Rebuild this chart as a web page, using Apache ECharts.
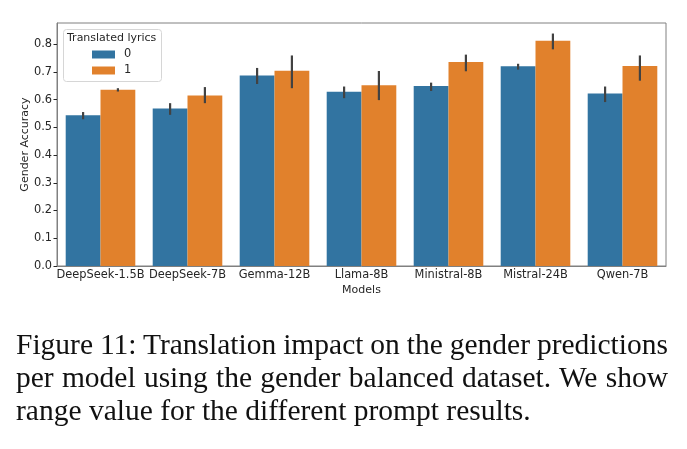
<!DOCTYPE html>
<html>
<head>
<meta charset="utf-8">
<script src="https://cdn.jsdelivr.net/npm/echarts/dist/echarts.min.js"></script>
<style>
  html, body { margin: 0; padding: 0; background: #fff; }
  #wrap { position: relative; width: 687px; height: 449px; }
  #chart { position: absolute; left: 0; top: 0; width: 687px; height: 449px; }
  #caption {
    position: absolute; left: 16px; top: 328px; width: 652px;
    font-family: 'Liberation Serif', serif; font-size: 29.5px; line-height: 33px;
    color: #111;
  }
  #caption div { white-space: nowrap; }
  #caption .j { text-align: justify; text-align-last: justify; word-spacing: -4px; }
</style>
</head>
<body>
<div id="wrap">
  <div id="chart"></div>
  <div id="caption">
    <div class="j">Figure 11: Translation impact on the gender predictions</div>
    <div class="j">per model using the gender balanced dataset. We show</div>
    <div>range value for the different prompt results.</div>
  </div>
</div>
<script>
// models on the x axis
const models = ['DeepSeek-1.5B', 'DeepSeek-7B', 'Gemma-12B', 'Llama-8B', 'Ministral-8B', 'Mistral-24B', 'Qwen-7B']
const legendNames = ['0', '1']
// mean gender accuracy, translated lyrics = 0 / 1
const acc0 = [0.543, 0.568, 0.687, 0.628, 0.649, 0.720, 0.622]
const acc1 = [0.635, 0.615, 0.704, 0.652, 0.735, 0.812, 0.721]
// range over prompts (error bars)
const low0 = [0.529, 0.545, 0.656, 0.605, 0.631, 0.708, 0.591]
const high0 = [0.555, 0.587, 0.714, 0.647, 0.661, 0.729, 0.647]
const low1 = [0.629, 0.587, 0.641, 0.598, 0.702, 0.781, 0.668]
const high1 = [0.641, 0.645, 0.759, 0.703, 0.762, 0.838, 0.759]
const yTicks = [0, 0.1, 0.2, 0.3, 0.4, 0.5, 0.6, 0.7, 0.8]

const font = 'DejaVu Sans'
const textColor = '#262626'
const blue = '#3274a1'
const orange = '#e1812c'

// error bar series, shifted onto the left / right bar of each group
function errSeries (low, high, side) {
  return {
    type: 'custom',
    z: 5,
    silent: true,
    data: models.map((m, i) => [i, low[i], high[i]]),
    renderItem: function (params, api) {
      const bw = api.size([1, 0])[0]
      const p1 = api.coord([api.value(0), api.value(1)])
      const p2 = api.coord([api.value(0), api.value(2)])
      const x = p1[0] + side * bw * 0.2
      return {
        type: 'line',
        shape: {x1: x, y1: p1[1], x2: x, y2: p2[1]},
        style: {stroke: '#424242', lineWidth: 2.2}
      }
    }
  }
}

const chart = echarts.init(document.getElementById('chart'))
chart.setOption({
  animation: false,
  grid: {
    left: 57, top: 23, width: 609, height: 243,
    show: true, borderColor: '#808080', borderWidth: 1, backgroundColor: 'transparent'
  },
  legend: {
    data: legendNames,
    orient: 'vertical',
    left: 92, top: 49,
    padding: 0,
    icon: 'rect',
    itemWidth: 23, itemHeight: 8, itemGap: 5,
    textStyle: {fontFamily: font, fontSize: 11.4, color: textColor, padding: [0, 0, 0, 4]},
    z: 6
  },
  graphic: [{
    type: 'rect', left: 63, top: 29, z: 4,
    shape: {width: 98, height: 52, r: 3},
    style: {fill: 'rgba(255,255,255,0.85)', stroke: '#d6d6d6', lineWidth: 1}
  }, {
    type: 'text', left: 67, top: 33, z: 6,
    style: {text: 'Translated lyrics', fontFamily: font, fontSize: 11, fill: textColor}
  }],
  xAxis: {
    type: 'category',
    data: models,
    name: 'Models',
    nameLocation: 'middle',
    nameGap: 19,
    nameMoveOverlap: false,
    nameTextStyle: {fontFamily: font, fontSize: 11, color: textColor},
    axisLine: {lineStyle: {color: '#808080', width: 1}},
    axisTick: {alignWithLabel: true, length: 3.5, lineStyle: {color: textColor}},
    axisLabel: {fontFamily: font, fontSize: 11.4, color: textColor, margin: 4, interval: 0},
    splitLine: {show: false}
  },
  yAxis: {
    type: 'value',
    min: 0, max: 0.876, interval: 0.1,
    name: 'Gender Accuracy',
    nameLocation: 'middle',
    nameGap: 26,
    nameMoveOverlap: false,
    nameTextStyle: {fontFamily: font, fontSize: 11, color: textColor},
    axisLine: {show: true, lineStyle: {color: '#808080', width: 1}},
    axisTick: {show: true, length: 3.5, lineStyle: {color: textColor}},
    axisLabel: {
      fontFamily: font, fontSize: 11.4, color: textColor, margin: 5,
      showMaxLabel: false,
      formatter: v => yTicks.some(t => Math.abs(t - v) < 1e-9) ? v.toFixed(1) : ''
    },
    splitLine: {show: false}
  },
  series: [{
    name: legendNames[0], type: 'bar', data: acc0,
    barGap: '0%', barCategoryGap: '20%',
    itemStyle: {color: blue}
  }, {
    name: legendNames[1], type: 'bar', data: acc1,
    barGap: '0%', barCategoryGap: '20%',
    itemStyle: {color: orange}
  },
  errSeries(low0, high0, -1),
  errSeries(low1, high1, 1)
  ]
})
</script>
</body>
</html>
